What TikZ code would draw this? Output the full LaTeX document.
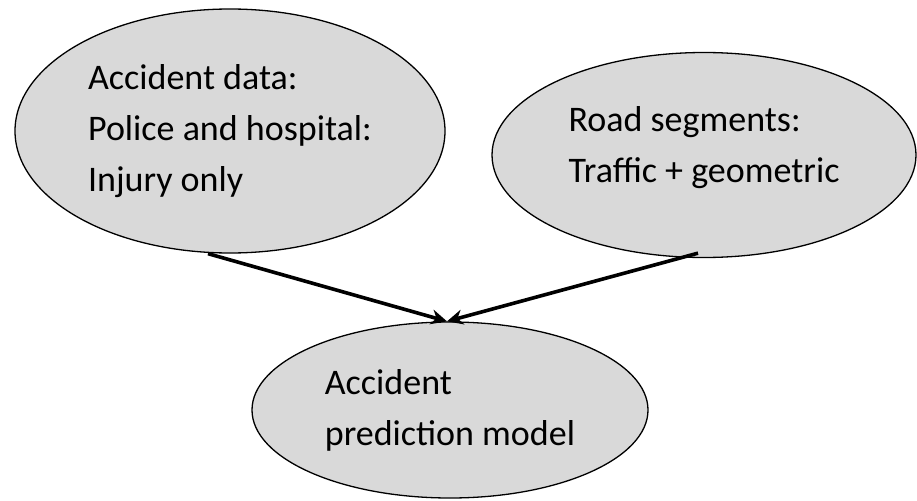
\documentclass[tikz,border=0pt]{standalone}
\usepackage{fontspec}
\setmainfont{Carlito}
\usepackage{tikz}
\usetikzlibrary{arrows.meta,shapes.geometric}
\definecolor{blobgrey}{RGB}{217,217,217}

\begin{document}
\begin{tikzpicture}[x=1pt,y=-1pt,
  every node/.style={font=\fontsize{36}{51}\selectfont},
  blob/.style={ellipse,draw=black,line width=1.3pt,fill=blobgrey,inner sep=0pt,align=left},
  ar/.style={-{Stealth[length=16pt,width=15pt]},black,line width=3.6pt}]
\useasboundingbox (0,0) rectangle (917,500);

\node[blob,minimum width=430,minimum height=244] (acc) at (230,131)
  {Accident data:\\Police and hospital:\\Injury only};
\node[blob,minimum width=424,minimum height=205] (road) at (704,155)
  {Road segments:\\Traffic + geometric\\[-30pt]\mbox{}};
\node[blob,minimum width=396,minimum height=176] (model) at (450,410)
  {Accident\\prediction model};

\draw[ar] ([xshift=-22pt]acc.south) -- ([xshift=-3pt]model.north);
\draw[ar] ([yshift=5pt,xshift=-6pt]road.south) -- ([xshift=-3pt]model.north);
\end{tikzpicture}
\end{document}
